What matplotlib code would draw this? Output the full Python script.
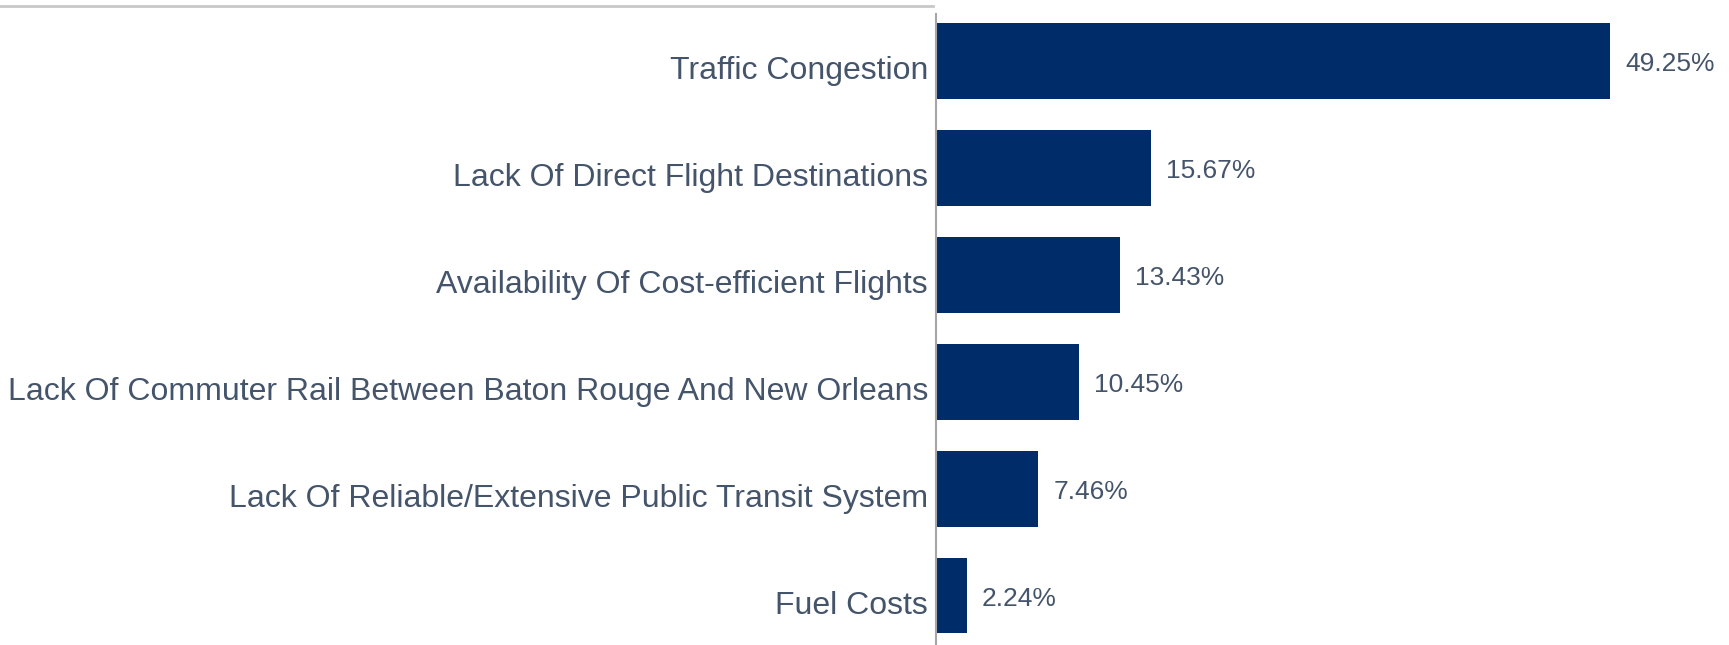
import matplotlib.pyplot as plt
from matplotlib.lines import Line2D

# Survey answers, top to bottom
categories = [
    "Traffic Congestion",
    "Lack Of Direct Flight Destinations",
    "Availability Of Cost-efficient Flights",
    "Lack Of Commuter Rail Between Baton Rouge And New Orleans",
    "Lack Of Reliable/Extensive Public Transit System",
    "Fuel Costs",
]
shares = [49.25, 15.67, 13.43, 10.45, 7.46, 2.24]

bar_color = "#002D6A"
text_color = "#44546A"

plt.rcParams['font.family'] = ['Liberation Sans', 'DejaVu Sans']

fig = plt.figure(figsize=(17.29, 6.45), dpi=100)
ax = fig.add_axes([0.5414, 0.0, 0.4586, 0.979])

pos = list(range(len(categories)))
ax.barh(pos, shares, height=0.71, color=bar_color)

# category names on the left, baseline a bit below bar centre
for p, name in zip(pos, categories):
    ax.annotate(name, (0, p), xytext=(-8, -18), textcoords="offset pixels",
                ha="right", va="baseline", fontsize=23, color=text_color)

# value labels right of the bars
for p, v in zip(pos, shares):
    ax.annotate(f"{v:.2f}%", (v, p), xytext=(15, -10), textcoords="offset pixels",
                ha="left", va="baseline", fontsize=19, color=text_color)

ax.set_xlim(0, 57.93)
ax.set_ylim(5.463, -0.444)
ax.set_yticks([])
ax.set_xticks([])

for side in ["top", "right", "bottom"]:
    ax.spines[side].set_visible(False)
ax.spines["left"].set_color("#A6A6A6")
ax.spines["left"].set_linewidth(1.5)

# faint rule across the top-left, left over from the source layout
fig.add_artist(Line2D([0, 0.5396], [0.99, 0.99], transform=fig.transFigure,
                      color="#C8C8C8", linewidth=2))

fig.savefig("out.png", dpi=100)
